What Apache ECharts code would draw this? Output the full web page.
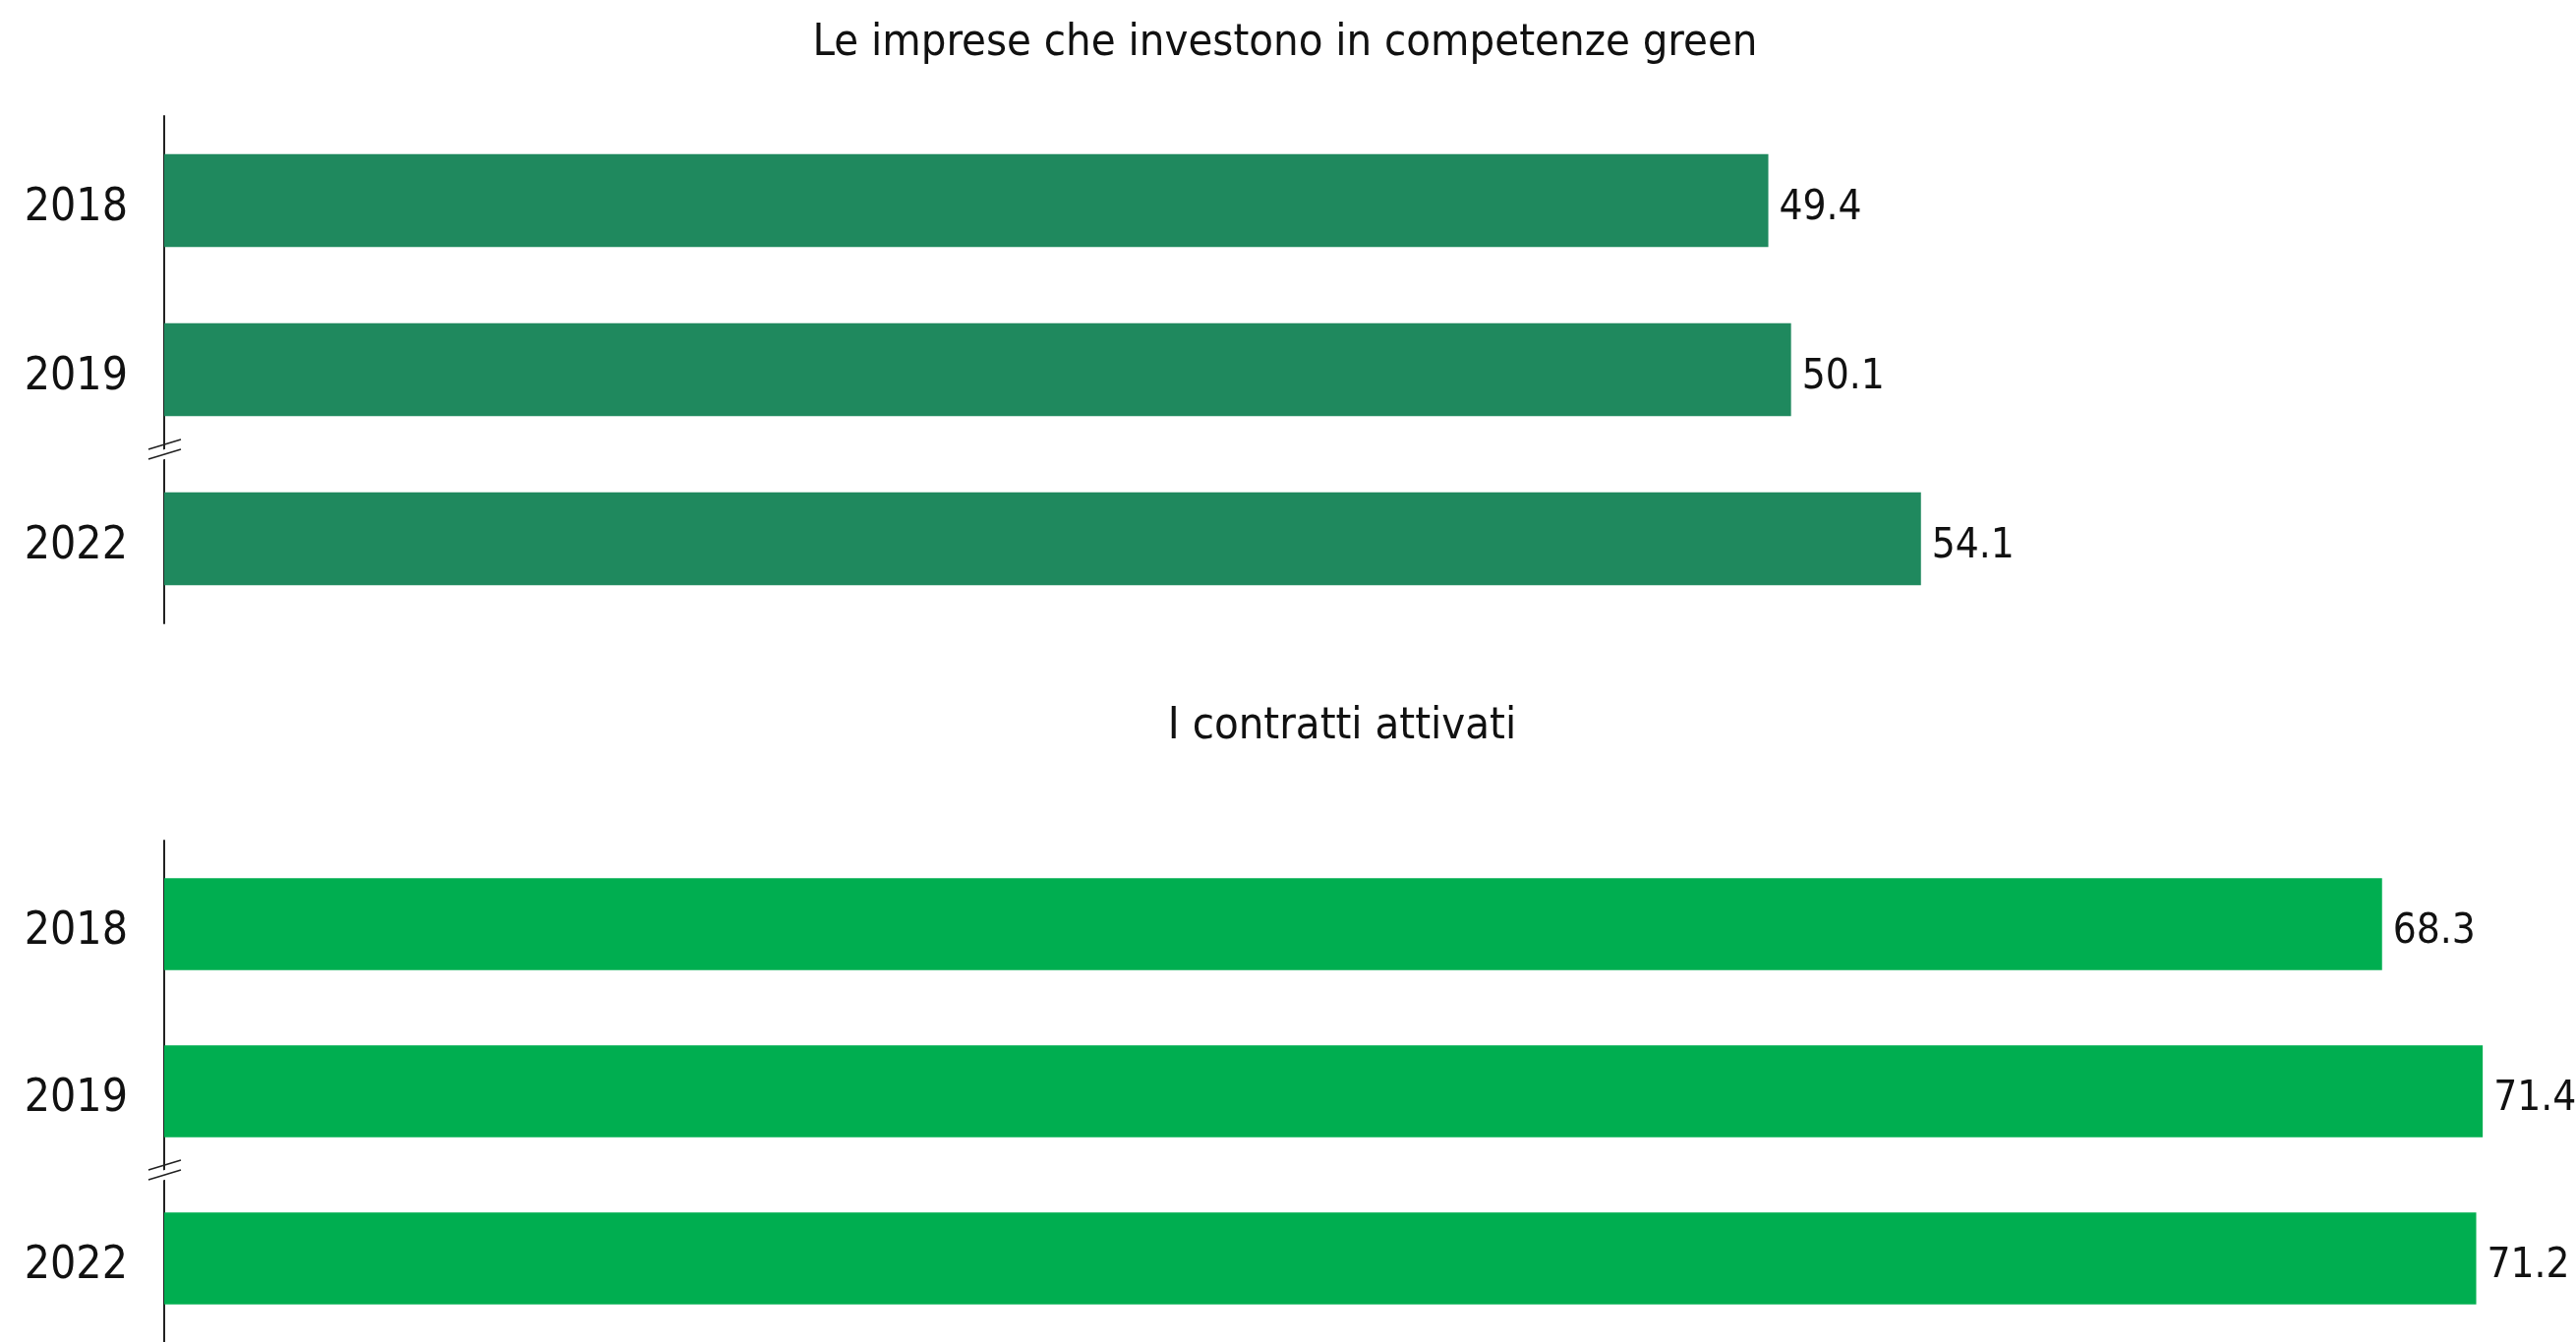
<!DOCTYPE html>
<html>
<head>
<meta charset="utf-8">
<script src="https://cdn.jsdelivr.net/npm/echarts@6/dist/echarts.min.js"></script>
<style>
  html, body { margin: 0; padding: 0; background: #fff; }
  #chart { width: 2620px; height: 1365px; }
</style>
</head>
<body>
<div id="chart"></div>
<script>
// dati
const years = ['2018', '2019', '2022']
const greenSkills = [49.4, 50.1, 54.1]
const contracts = [68.3, 71.4, 71.2]
const titles = ['Le imprese che investono in competenze green', 'I contratti attivati']

const font = "'Liberation Sans Narrow', 'DejaVu Sans Condensed', Roboto, sans-serif"
const colors = ['#1F895E', '#00AE50']

const chart = echarts.init(document.getElementById('chart'), null, { renderer: 'canvas' })

// griglie: stessa scala orizzontale per entrambi i pannelli
const grids = [
  { left: 167, right: 9, top: 118, height: 516 },
  { left: 167, right: 9, top: 855, height: 516 }
]

const yAxisCfg = (i) => ({
  type: 'category',
  gridIndex: i,
  data: years,
  inverse: true,
  axisLine: { show: true, lineStyle: { color: '#222', width: 2 } },
  axisTick: { show: false },
  axisLabel: {
    margin: 37,
    formatter: '{y|{value}}',
    rich: {
      y: { fontSize: 46, color: '#111', fontFamily: font, padding: [16, 0, 0, 0] }
    }
  }
})

const xAxisCfg = (i) => ({
  type: 'value',
  gridIndex: i,
  min: 0,
  max: 74,
  show: false
})

const seriesCfg = (i, data) => ({
  type: 'bar',
  xAxisIndex: i,
  yAxisIndex: i,
  data: data,
  barWidth: '55%',
  itemStyle: { color: colors[i] },
  label: {
    show: true,
    position: 'right',
    distance: 11,
    offset: [0, 8],
    fontSize: 42,
    color: '#111',
    fontFamily: font,
    formatter: (p) => p.value.toFixed(1)
  },
  silent: true
})

chart.setOption({
  animation: false,
  title: [
    { text: titles[0], left: 1302, top: 17, textAlign: 'center',
      textStyle: { fontSize: 45, fontWeight: 'normal', color: '#111', fontFamily: font } },
    { text: titles[1], left: 1360, top: 712, textAlign: 'center',
      textStyle: { fontSize: 45, fontWeight: 'normal', color: '#111', fontFamily: font } }
  ],
  grid: grids,
  xAxis: [xAxisCfg(0), xAxisCfg(1)],
  yAxis: [yAxisCfg(0), yAxisCfg(1)],
  series: [seriesCfg(0, greenSkills), seriesCfg(1, contracts)]
})

// segni di interruzione dell'asse tra 2019 e 2022
const breakMarks = []
for (let i = 0; i < 2; i++) {
  const a = chart.convertToPixel({ gridIndex: i }, [0, years[1]])
  const b = chart.convertToPixel({ gridIndex: i }, [0, years[2]])
  const cx = a[0]
  const cy = (a[1] + b[1]) / 2
  breakMarks.push({
    type: 'polygon',
    shape: { points: [[cx - 16, cy], [cx + 17, cy - 10], [cx + 17, cy + 0], [cx - 16, cy + 10]] },
    style: { fill: '#fff' },
    z: 100
  })
  breakMarks.push({
    type: 'line',
    shape: { x1: cx - 16, y1: cy - 5, x2: cx + 17, y2: cy - 15 },
    style: { stroke: '#222', lineWidth: 1.6 },
    z: 101
  })
  breakMarks.push({
    type: 'line',
    shape: { x1: cx - 16, y1: cy + 5, x2: cx + 17, y2: cy - 5 },
    style: { stroke: '#222', lineWidth: 1.6 },
    z: 101
  })
}
chart.setOption({ graphic: breakMarks })
</script>
</body>
</html>
